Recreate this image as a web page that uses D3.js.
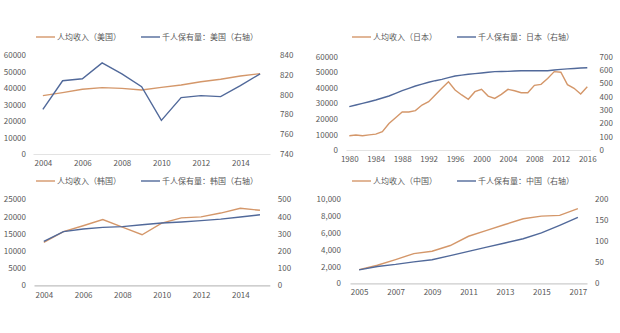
<!DOCTYPE html>
<html>
<head>
<meta charset="utf-8">
<script src="https://cdn.jsdelivr.net/npm/d3@7"></script>
<style>
  body { margin: 0; background: #fff; }
  svg text { font-family: "Noto Sans CJK SC", "Noto Sans", sans-serif; fill: #595959; }
</style>
</head>
<body>
<svg id="chart" width="620" height="333"></svg>
<script>
// ---- data ----
const usYears = [2004,2005,2006,2007,2008,2009,2010,2011,2012,2013,2014,2015]
const usIncome = [35400,37200,39200,40200,39800,38800,40400,41800,43800,45300,47300,48700]
const usCars = [785,814,816,832,821,808,774,797,799,798,809,821]
const usLeftTicks = [0,10000,20000,30000,40000,50000,60000]
const usRightTicks = [740,760,780,800,820,840]
const usXTicks = [2004,2006,2008,2010,2012,2014]

const jpYears = d3.range(1980, 2017)
const jpIncome = [9200,9600,9200,9700,10200,11800,17000,20800,24400,24400,25300,28900,31100,35400,39700,43900,
  38600,35400,32600,37500,39000,34700,33200,35800,39000,38100,36800,36800,41600,42200,46000,50400,50000,
  42000,39700,36000,40700]
const jpCars = [325,338,350,362,375,390,405,425,445,462,480,494,508,520,530,543,555,562,568,573,578,583,588,589,590,
  593,595,595,595,595,595,600,605,609,612,615,617]
const jpLeftTicks = [0,10000,20000,30000,40000,50000,60000]
const jpRightTicks = [0,100,200,300,400,500,600,700]
const jpXTicks = [1980,1984,1988,1992,1996,2000,2004,2008,2012,2016]

const krYears = [2004,2005,2006,2007,2008,2009,2010,2011,2012,2013,2014,2015]
const krIncome = [12500,15600,17300,19100,16900,14700,18100,19600,19900,21000,22400,21800]
const krCars = [256,312,327,337,341,352,362,368,376,385,397,410]
const krLeftTicks = [0,5000,10000,15000,20000,25000]
const krRightTicks = [0,100,200,300,400,500]
const krXTicks = [2004,2006,2008,2010,2012,2014]

const cnYears = [2005,2006,2007,2008,2009,2010,2011,2012,2013,2014,2015,2016,2017]
const cnIncome = [1620,2150,2820,3540,3820,4500,5600,6300,7000,7680,8000,8080,8880]
const cnCars = [32,40,45,51,56,66,76,86,96,106,120,138,157]
const cnLeftTicks = [0,2000,4000,6000,8000,10000]
const cnRightTicks = [0,50,100,150,200]
const cnXTicks = [2005,2007,2009,2011,2013,2015,2017]

const ORANGE = '#D4976A'
const BLUE = '#51699A'

const svg = d3.select('#chart')

function drawPanel(p) {
  const g = svg.append('g')

  const x = d3.scaleLinear().domain(p.xDomain).range([p.left, p.right])
  const yl = d3.scaleLinear().domain(p.lDomain).range([p.bottom, p.top])
  const yr = d3.scaleLinear().domain(p.rDomain).range([p.bottom, p.top])

  // left axis
  g.append('g')
    .attr('transform', 'translate(' + p.left + ',0)')
    .call(d3.axisLeft(yl).tickValues(p.lTicks).tickSize(0).tickPadding(p.lPad).tickFormat(p.lFormat))
    .call(a => a.select('.domain').remove())
  // right axis
  g.append('g')
    .attr('transform', 'translate(' + p.right + ',0)')
    .call(d3.axisRight(yr).tickValues(p.rTicks).tickSize(0).tickPadding(p.rPad).tickFormat(d3.format('d')))
    .call(a => a.select('.domain').remove())
  // bottom axis
  g.append('g')
    .attr('transform', 'translate(0,' + p.bottom + ')')
    .call(d3.axisBottom(x).tickValues(p.xTicks).tickSize(0).tickPadding(p.xPad).tickFormat(d3.format('d')))
    .call(a => a.select('.domain').attr('stroke', p.axisColor).attr('stroke-width', 1.2))

  g.selectAll('.tick text').attr('font-size', 8)

  const lineL = d3.line().x((d, i) => x(p.years[i])).y(d => yl(d))
  const lineR = d3.line().x((d, i) => x(p.years[i])).y(d => yr(d))

  g.append('path').datum(p.income)
    .attr('fill', 'none').attr('stroke', ORANGE).attr('stroke-width', 1.4)
    .attr('d', lineL)
  g.append('path').datum(p.cars)
    .attr('fill', 'none').attr('stroke', BLUE).attr('stroke-width', 1.4)
    .attr('d', lineR)

  // legend
  const leg = [
    { x: p.legX[0], color: ORANGE, label: p.labels[0] },
    { x: p.legX[1], color: BLUE, label: p.labels[1] }
  ]
  leg.forEach(l => {
    g.append('line')
      .attr('x1', l.x).attr('x2', l.x + 19)
      .attr('y1', p.legY).attr('y2', p.legY)
      .attr('stroke', l.color).attr('stroke-width', 1.4)
    g.append('text')
      .attr('x', l.x + 21).attr('y', p.legY)
      .attr('dy', '0.35em')
      .attr('font-size', 8)
      .text(l.label)
  })
}

drawPanel({
  years: usYears, income: usIncome, cars: usCars,
  xDomain: [2003.5, 2015.5], left: 33, right: 270, top: 55, bottom: 154,
  lDomain: [0, 60000], rDomain: [740, 840],
  lTicks: usLeftTicks, rTicks: usRightTicks, xTicks: usXTicks,
  lFormat: d3.format('d'), lPad: 7, rPad: 10, xPad: 6, axisColor: '#E3E3E3',
  legY: 37, legX: [36, 141],
  labels: ['人均收入（美国）', '千人保有量：美国（右轴）']
})

drawPanel({
  years: jpYears, income: jpIncome, cars: jpCars,
  xDomain: [1979.5, 2016.5], left: 346, right: 590.6, top: 56.7, bottom: 150,
  lDomain: [0, 60000], rDomain: [0, 700],
  lTicks: jpLeftTicks, rTicks: jpRightTicks, xTicks: jpXTicks,
  lFormat: d3.format('d'), lPad: 8, rPad: 9, xPad: 6, axisColor: '#E3E3E3',
  legY: 37, legX: [352, 457],
  labels: ['人均收入（日本）', '千人保有量：日本（右轴）']
})

drawPanel({
  years: krYears, income: krIncome, cars: krCars,
  xDomain: [2003.5, 2015.5], left: 34, right: 269.8, top: 199.3, bottom: 285.3,
  lDomain: [0, 25000], rDomain: [0, 500],
  lTicks: krLeftTicks, rTicks: krRightTicks, xTicks: krXTicks,
  lFormat: d3.format('d'), lPad: 8, rPad: 8, xPad: 7, axisColor: '#BFBFBF',
  legY: 181, legX: [36, 141],
  labels: ['人均收入（韩国）', '千人保有量：韩国（右轴）']
})

drawPanel({
  years: cnYears, income: cnIncome, cars: cnCars,
  xDomain: [2004.5, 2017.5], left: 350, right: 587, top: 199.3, bottom: 283.3,
  lDomain: [0, 10000], rDomain: [0, 200],
  lTicks: cnLeftTicks, rTicks: cnRightTicks, xTicks: cnXTicks,
  lFormat: d3.format(','), lPad: 9, rPad: 8, xPad: 6, axisColor: '#CCCCCC',
  legY: 181, legX: [352, 457],
  labels: ['人均收入（中国）', '千人保有量：中国（右轴）']
})
</script>
</body>
</html>
